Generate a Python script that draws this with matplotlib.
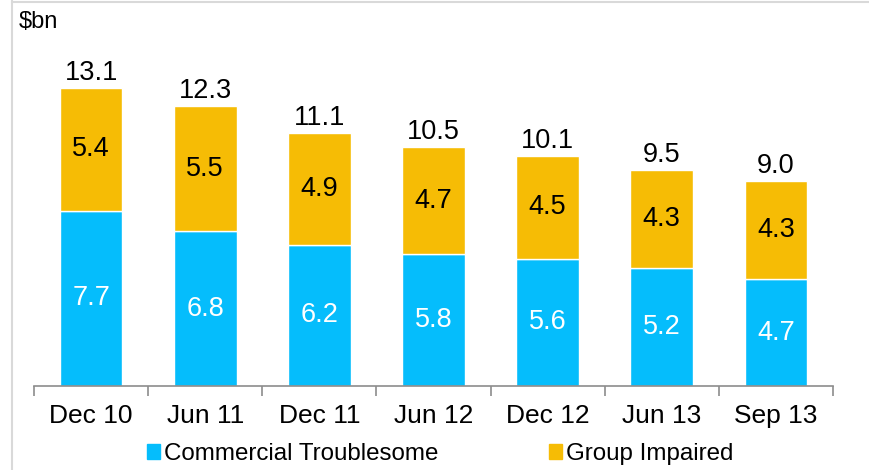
import matplotlib.pyplot as plt
import numpy as np
from matplotlib.lines import Line2D
from matplotlib.patches import Patch

plt.rcParams['font.family'] = ['Liberation Sans', 'DejaVu Sans']

periods = ['Dec 10', 'Jun 11', 'Dec 11', 'Jun 12', 'Dec 12', 'Jun 13', 'Sep 13']
commercial = [7.7, 6.8, 6.2, 5.8, 5.6, 5.2, 4.7]
impaired = [5.4, 5.5, 4.9, 4.7, 4.5, 4.3, 4.3]
totals = ['13.1', '12.3', '11.1', '10.5', '10.1', '9.5', '9.0']

blue = '#05BDFC'
gold = '#F6BC05'

fig = plt.figure(figsize=(8.7, 4.7), dpi=100)
ax = fig.add_axes([34/870, (470-386)/470, (833-34)/870, (386-22)/470])

x = np.arange(len(periods))
ax.bar(x, commercial, width=0.55, color=blue, edgecolor='white', linewidth=1.0)
ax.bar(x, impaired, width=0.55, bottom=commercial, color=gold, edgecolor='white', linewidth=1.0)

for i in range(len(periods)):
    ax.text(x[i], commercial[i] / 2, f'{commercial[i]:.1f}', ha='center', va='center',
            color='white', fontsize=19.5)
    ax.text(x[i], commercial[i] + impaired[i] / 2, f'{impaired[i]:.1f}', ha='center',
            va='center', color='black', fontsize=19.5)
    ax.text(x[i], commercial[i] + impaired[i] + 0.1, totals[i], ha='center',
            va='bottom', color='black', fontsize=19.5)

ax.set_xlim(-0.5, len(periods) - 0.5)
ax.set_ylim(0, 16)
ax.set_xticks(x)
ax.set_xticklabels(periods, fontsize=19)
ax.set_xticks(np.arange(-0.5, len(periods)), minor=True)
ax.tick_params(axis='x', which='major', length=0, pad=13)
ax.tick_params(axis='x', which='minor', length=7, color='#8c8c8c', width=1.2)
ax.set_yticks([])
for s in ['top', 'right', 'left']:
    ax.spines[s].set_visible(False)
ax.spines['bottom'].set_color('#8c8c8c')
ax.spines['bottom'].set_linewidth(1.2)

fig.text(19/870, 1 - 22/470, '$bn', fontsize=17, va='center', ha='left')

# frame lines round the chart area
fig.add_artist(Line2D([12/870, 12/870], [0, 1 - 1/470], color='#d9d9d9', lw=1.5))
fig.add_artist(Line2D([12/870, 1], [1 - 1.5/470, 1 - 1.5/470], color='#d9d9d9', lw=1.5))

handles = [Patch(color=blue, label='Commercial Troublesome'),
           Patch(color=gold, label='Group Impaired')]
fig.legend(handles=handles, loc='center', bbox_to_anchor=(440/870, 1 - 454/470),
           ncol=2, frameon=False, fontsize=17.4, handlelength=0.55, handleheight=0.55,
           handletextpad=0.15, columnspacing=4.6)

fig.savefig('out.png', dpi=100)
